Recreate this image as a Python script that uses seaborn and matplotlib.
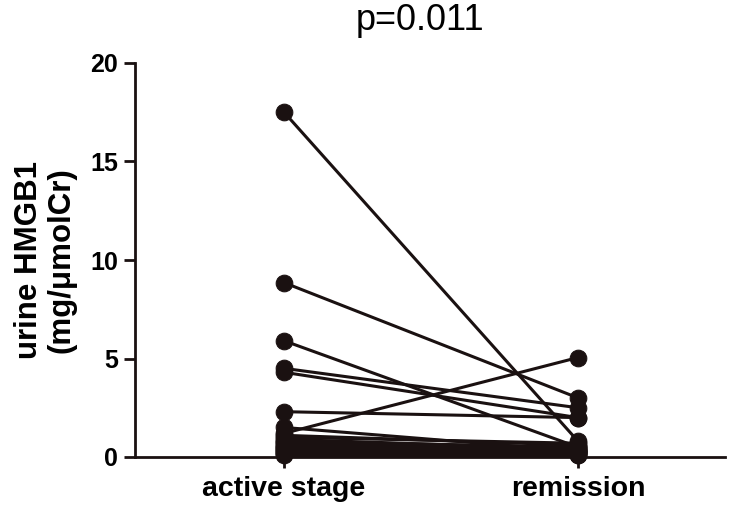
import matplotlib
matplotlib.use('Agg')
import matplotlib.pyplot as plt
import pandas as pd
import seaborn as sns

# Paired urine HMGB1 values (mg/umolCr)
stages = ['active stage', 'remission']
active = [17.5, 8.85, 5.9, 4.5, 4.3, 2.3, 1.5, 1.2, 1.1, 1.0, 0.9, 0.8,
          0.75, 0.7, 0.6, 0.55, 0.5, 0.45, 0.4, 0.35, 0.3, 0.25, 0.2, 0.15, 0.1]
remission = [0.8, 3.0, 0.5, 2.5, 2.0, 2.0, 0.3, 5.05, 0.6, 0.7, 0.4, 0.5,
             0.3, 0.2, 0.5, 0.35, 0.25, 0.3, 0.2, 0.4, 0.15, 0.3, 0.1, 0.2, 0.1]
p_text = 'p=0.011'

subjects = list(range(len(active)))
df = pd.DataFrame({
    'subject': subjects * 2,
    'stage': [0] * len(active) + [1] * len(remission),
    'value': active + remission,
})

sns.set_style('ticks')
plt.rcParams['font.family'] = ['Liberation Sans', 'DejaVu Sans']
plt.rcParams['text.color'] = 'black'
plt.rcParams['axes.labelcolor'] = 'black'
plt.rcParams['xtick.color'] = 'black'
plt.rcParams['ytick.color'] = 'black'

ink = '#1a1111'
fig = plt.figure(figsize=(7.33, 5.09), dpi=100)
ax = fig.add_axes([135 / 733, 1 - 457 / 509, 590 / 733, 394 / 509])

sns.lineplot(data=df, x='stage', y='value', units='subject', estimator=None,
             color=ink, marker='o', markersize=12, markeredgecolor=ink,
             linewidth=2.2, ax=ax, legend=False)

ax.set_xlim(-0.507, 1.5)
ax.set_ylim(0, 20)
ax.set_yticks([0, 5, 10, 15, 20])
ax.set_xticks([0, 1])
ax.set_xticklabels(stages)
ax.set_xlabel('')
ax.set_ylabel('urine HMGB1\n(mg/\u03bcmolCr)', fontsize=22.5, fontweight='bold',
              linespacing=1.1)
ax.yaxis.set_label_coords(-0.1, 0.5)
ax.text(0.483, 1.0 + 42 / 394, p_text, transform=ax.transAxes,
        fontsize=26, ha='center', va='center')

for lab in ax.get_yticklabels():
    lab.set_fontsize(18)
    lab.set_fontweight('bold')
for lab in ax.get_xticklabels():
    lab.set_fontsize(20.5)
    lab.set_fontweight('bold')
ax.tick_params(axis='both', width=2, length=8, color=ink, direction='out')
ax.tick_params(axis='x', pad=6)
ax.tick_params(axis='y', pad=4)
for s in ['left', 'bottom']:
    ax.spines[s].set_linewidth(2)
    ax.spines[s].set_color(ink)
ax.spines['top'].set_visible(False)
ax.spines['right'].set_visible(False)
for m in ax.lines:
    m.set_clip_on(False)

fig.savefig('out.png', dpi=100)
